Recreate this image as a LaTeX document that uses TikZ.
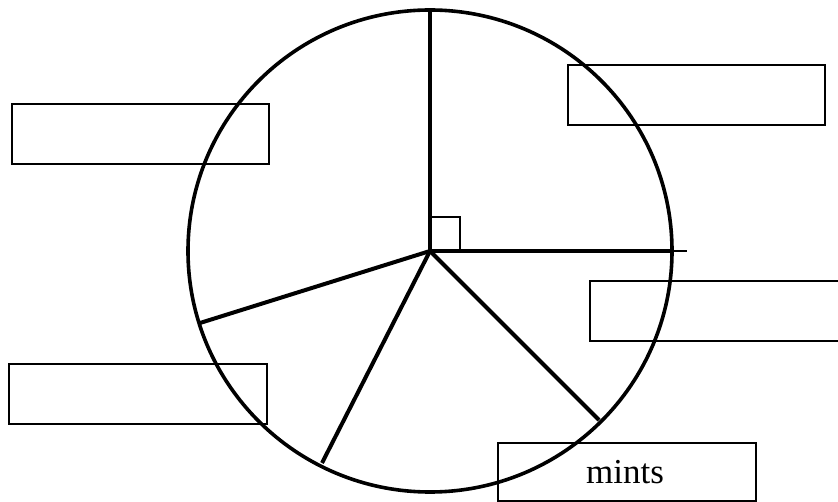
\documentclass[tikz,border=0pt]{standalone}
\usepackage{fontspec}
\setmainfont{Liberation Serif}
\begin{document}
\begin{tikzpicture}[x=1pt,y=-1pt,
  label box/.style={draw,line width=2pt,inner sep=0pt,anchor=north west},
  spoke/.style={line width=4pt},
  rim/.style={line width=3.6pt}]
\useasboundingbox (0,0) rectangle (838,502);
\clip (0,0) rectangle (838,502);
% circle
\coordinate (c) at (430,251);
\draw[rim] (c) ellipse [x radius=242,y radius=241];
% spokes
\coordinate (top) at (430,8);
\coordinate (right) at (671,251);
\coordinate (rightend) at (687,251);
\coordinate (ll) at (200,323);
\coordinate (bot) at (322,463);
\coordinate (lr) at (599,420);
\draw[spoke] (c) -- (top);
\draw[spoke] (c) -- (right);
\draw[line width=1.6pt] (right) -- (rightend);
\draw[spoke] (c) -- (ll);
\draw[spoke] (c) -- (bot);
\draw[spoke] (c) -- (lr);
% right-angle mark
\coordinate (ra1) at (432,217);
\coordinate (ra2) at (460,217);
\coordinate (ra3) at (460,251);
\draw[line width=2.4pt] (ra1) -- (ra2) -- (ra3);
% boxes
\node[label box,minimum width=257pt,minimum height=60pt] (tl) at (11,103) {};
\node[label box,minimum width=257pt,minimum height=60pt] (tr) at (567,64) {};
\node[label box,minimum width=270pt,minimum height=60pt] (r) at (589,280) {};
\node[label box,minimum width=258pt,minimum height=60pt] (bl) at (8,363) {};
\node[label box,minimum width=258pt,minimum height=58pt] (b) at (497,442) {};
\node[font=\fontsize{35}{40}\selectfont] (mints) at ([xshift=-2pt]b.center) {mints};
\end{tikzpicture}
\end{document}
